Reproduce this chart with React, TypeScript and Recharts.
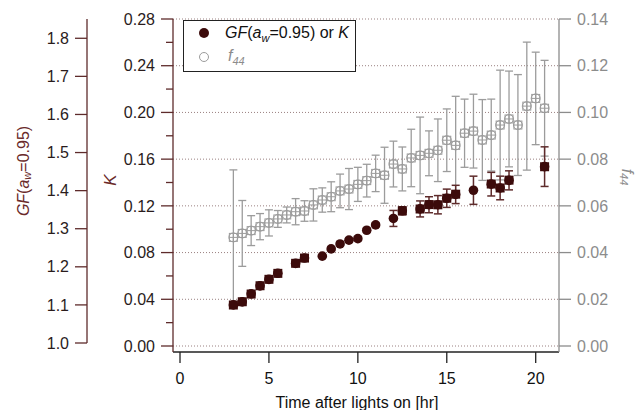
import React from "react";
import {
  ComposedChart,
  Scatter,
  XAxis,
  YAxis,
  ErrorBar,
  CartesianGrid,
  Legend
} from "recharts";

const darkColor = "#3c0b0b";
const maroonAxis = "#5e2b2b";
const maroonText = "#6a2a2a";
const tickText = "#2a1c1c";
const grayColor = "#8c8c8c";
const grayMarker = "#9c9c9c";
const gridColor = "#9a8080";
const fontFamily = "'Liberation Sans', Arial, sans-serif";

// GF(aw=0.95) (circles, outer left axis) and K (squares, inner left axis)
const darkTime = [
  3.0, 3.5, 4.0, 4.5, 5.0, 5.5, 6.5, 7.0, 8.0, 8.5, 9.0, 9.5, 10.0, 10.5, 11.0,
  12.0, 12.5, 13.5, 14.0, 14.5, 15.0, 15.5, 16.5, 17.5, 18.0, 18.5, 20.5
];
const gfValues = [
  1.1, 1.108, 1.129, 1.15, 1.167, 1.183, 1.209, 1.223, 1.228, 1.247, 1.26,
  1.27, 1.274, 1.296, 1.31, 1.327, 1.347, 1.352, 1.363, 1.363, 1.38, 1.39,
  1.401, 1.417, 1.407, 1.427, 1.463
];
const gfErr = [
  0.005, 0.008, 0.008, 0.005, 0.005, 0.005, 0.005, 0.005, 0.003, 0.005, 0.005,
  0.005, 0.005, 0.005, 0.005, 0.021, 0.0105, 0.021, 0.021, 0.024, 0.024, 0.024,
  0.037, 0.031, 0.031, 0.025, 0.052
];
const kValues = [
  0.0351, 0.0379, 0.0445, 0.0516, 0.0571, 0.0622, 0.0708, 0.0753, null, null,
  null, null, null, null, null, null, 0.1158, 0.1173, 0.1211, 0.1209, 0.1265,
  0.13, null, 0.1387, 0.1353, 0.142, 0.1535
];

// f44 (right axis)
const f44Time = [
  3.0, 3.5, 4.0, 4.5, 5.0, 5.5, 6.0, 6.5, 7.0, 7.5, 8.0, 8.5, 9.0, 9.5, 10.0,
  10.5, 11.0, 11.5, 12.0, 12.5, 13.0, 13.5, 14.0, 14.5, 15.0, 15.5, 16.0, 16.5,
  17.0, 17.5, 18.0, 18.5, 19.0, 19.5, 20.0, 20.5
];
const f44Values = [
  0.0465, 0.0482, 0.0494, 0.0511, 0.0527, 0.0544, 0.0561, 0.0575, 0.0578,
  0.0604, 0.0625, 0.0639, 0.0664, 0.0672, 0.0692, 0.0708, 0.0739, 0.0731,
  0.0779, 0.0758, 0.0805, 0.0816, 0.0825, 0.0838, 0.0881, 0.0859, 0.0911,
  0.092, 0.0882, 0.0903, 0.0946, 0.0972, 0.0946, 0.1027, 0.106, 0.1018
];
const f44Err = [
  0.0289, 0.0141, 0.0064, 0.0056, 0.0056, 0.0036, 0.0034, 0.0056, 0.0044,
  0.0069, 0.0052, 0.0064, 0.0072, 0.0088, 0.0073, 0.007, 0.0078, 0.012,
  0.0098, 0.0094, 0.0123, 0.0164, 0.0096, 0.0134, 0.0134, 0.021, 0.0146,
  0.0158, 0.0173, 0.0154, 0.0235, 0.0205, 0.0216, 0.0274, 0.0198, 0.0205
];

const xTicks = [0, 5, 10, 15, 20];
const kTicks = [
  0, 0.02, 0.04, 0.06, 0.08, 0.1, 0.12, 0.14, 0.16, 0.18, 0.2, 0.22, 0.24,
  0.26, 0.28
];
const kGrid = [0, 0.04, 0.08, 0.12, 0.16, 0.2, 0.24, 0.28];
const gfTicks = [1.0, 1.1, 1.2, 1.3, 1.4, 1.5, 1.6, 1.7, 1.8];
const f44Ticks = [0, 0.02, 0.04, 0.06, 0.08, 0.1, 0.12, 0.14];

const darkData = darkTime.map((t, i) => ({ t, gf: gfValues[i], gfErr: gfErr[i] }));
const kData = darkTime
  .map((t, i) => ({ t, k: kValues[i] }))
  .filter(d => d.k !== null);
const f44Data = f44Time.map((t, i) => ({ t, f44: f44Values[i], f44Err: f44Err[i] }));

// K axis: long ticks with labels every 0.04, short minor ticks in between
function KTick({ x, y, payload }: any) {
  const v = payload.value;
  const major = Math.round(v * 100) % 4 === 0;
  return (
    <g>
      <line x1={x} x2={x - (major ? 12 : 7)} y1={y} y2={y} stroke={maroonAxis} strokeWidth={1.3} />
      {major && (
        <text x={x - 18} y={y} dy="0.355em" textAnchor="end" fill={tickText} fontSize={16} fontFamily={fontFamily}>
          {v.toFixed(2)}
        </text>
      )}
    </g>
  );
}

function DarkCircle({ cx, cy }: any) {
  if (cx == null || cy == null) return null;
  return <circle cx={cx} cy={cy} r={4.8} fill={darkColor} />;
}

function DarkSquare({ cx, cy }: any) {
  if (cx == null || cy == null) return null;
  return <rect x={cx - 4.5} y={cy - 4.5} width={9} height={9} fill={darkColor} />;
}

function GrayMarker({ cx, cy }: any) {
  if (cx == null || cy == null) return null;
  return (
    <g stroke={grayMarker} strokeWidth={1} fill="none">
      <circle cx={cx} cy={cy} r={4.5} />
      <rect x={cx - 4} y={cy - 4} width={8} height={8} />
      <line x1={cx - 4} x2={cx + 4} y1={cy} y2={cy} />
      <line x1={cx} x2={cx} y1={cy - 4} y2={cy + 4} />
    </g>
  );
}

function renderLegend() {
  return (
    <div
      style={{
        position: "relative",
        width: 173,
        height: 52,
        boxSizing: "border-box",
        border: "1px solid #222",
        background: "#fff",
        fontFamily,
        fontSize: 16,
        lineHeight: "18px",
        color: "#111"
      }}
    >
      <svg width={14} height={14} style={{ position: "absolute", left: 13, top: 5 }}>
        <circle cx={7} cy={7} r={5} fill={darkColor} />
      </svg>
      <div style={{ position: "absolute", left: 41, top: 3, whiteSpace: "nowrap" }}>
        <i>GF</i>(<i>a</i>
        <sub style={{ fontSize: 11, fontStyle: "italic" }}>w</sub>=0.95) or <i>K</i>
      </div>
      <svg width={14} height={14} style={{ position: "absolute", left: 13, top: 29 }}>
        <circle cx={7} cy={7} r={4.5} fill="none" stroke={grayMarker} />
      </svg>
      <div
        style={{
          position: "absolute",
          left: 44,
          top: 26,
          whiteSpace: "nowrap",
          color: grayColor,
          fontStyle: "italic"
        }}
      >
        f<sub style={{ fontSize: 11 }}>44</sub>
      </div>
    </div>
  );
}

function GfTitle(props: any) {
  const vb = props.viewBox || { x: 7, y: 19 };
  const x = vb.x + 16;
  const y = vb.y + 152;
  return (
    <text x={x} y={y} transform={`rotate(-90, ${x}, ${y})`} textAnchor="middle" dominantBaseline="central"
      fill={maroonText} fontSize={16} fontFamily={fontFamily}>
      <tspan fontStyle="italic">GF</tspan>
      <tspan>(</tspan>
      <tspan fontStyle="italic">a</tspan>
      <tspan fontStyle="italic" fontSize={11} dy={4}>w</tspan>
      <tspan dy={-4}>=0.95)</tspan>
    </text>
  );
}

function KTitle(props: any) {
  const vb = props.viewBox || { x: 87, y: 19 };
  const x = vb.x + 23;
  const y = vb.y + 161;
  return (
    <text x={x} y={y} transform={`rotate(-90, ${x}, ${y})`} textAnchor="middle" dominantBaseline="central"
      fill={maroonText} fontSize={17} fontStyle="italic" fontFamily={fontFamily}>
      K
    </text>
  );
}

function F44Title(props: any) {
  const vb = props.viewBox || { x: 559, y: 19 };
  const x = vb.x + 69;
  const y = vb.y + 158;
  return (
    <text x={x} y={y} transform={`rotate(90, ${x}, ${y})`} textAnchor="middle" dominantBaseline="central"
      fill={grayColor} fontSize={16} fontStyle="italic" fontFamily={fontFamily}>
      <tspan>f</tspan>
      <tspan fontSize={11} dy={4}>44</tspan>
    </text>
  );
}

function XTitle(props: any) {
  const vb = props.viewBox || { x: 173, y: 352 };
  return (
    <text x={vb.x + 184} y={vb.y + 56} textAnchor="middle" fill="#111" fontSize={16} fontFamily={fontFamily}>
      Time after lights on [hr]
    </text>
  );
}

export default function App() {
  return (
    <div style={{ position: "absolute", left: 0, top: 0, width: 641, height: 410, background: "#fff" }}>
      <ComposedChart width={641} height={410} margin={{ top: 19, right: 12, left: 7, bottom: 0 }}>
        <XAxis
          dataKey="t"
          type="number"
          domain={[-0.394, 21.31]}
          allowDataOverflow
          ticks={xTicks}
          interval={0}
          tickSize={11}
          tickMargin={10}
          height={58}
          stroke="#222"
          strokeWidth={1.3}
          tick={{ fill: "#111", fontSize: 16, fontFamily }}
          label={(p: any) => <XTitle {...p} />}
        />
        {/* inner left axis: K */}
        <YAxis
          yAxisId="axisA"
          orientation="left"
          type="number"
          width={86}
          domain={[-0.005137, 0.28]}
          allowDataOverflow
          ticks={kTicks}
          interval={0}
          tickSize={0}
          tickMargin={0}
          tickLine={false}
          stroke={maroonAxis}
          strokeWidth={1.3}
          tick={(p: any) => <KTick {...p} />}
          label={(p: any) => <KTitle {...p} />}
        />
        {/* outer left axis: GF */}
        <YAxis
          yAxisId="axisB"
          orientation="left"
          type="number"
          width={80}
          domain={[0.97637, 1.8506]}
          allowDataOverflow
          ticks={gfTicks}
          interval={0}
          tickSize={12}
          tickMargin={6}
          axisLine={{ stroke: maroonAxis, strokeWidth: 1.3, strokeDasharray: "324 40" }}
          tickLine={{ stroke: maroonAxis, strokeWidth: 1.3 }}
          tick={{ fill: tickText, fontSize: 16, fontFamily }}
          tickFormatter={(v: number) => v.toFixed(1)}
          label={(p: any) => <GfTitle {...p} />}
        />
        {/* right axis: f44 */}
        <YAxis
          yAxisId="axisC"
          orientation="right"
          type="number"
          width={70}
          domain={[-0.0025686, 0.14]}
          allowDataOverflow
          ticks={f44Ticks}
          interval={0}
          tickSize={12}
          tickMargin={6}
          stroke={grayColor}
          strokeWidth={1.3}
          tick={{ fill: grayColor, fontSize: 16, fontFamily }}
          tickFormatter={(v: number) => v.toFixed(2)}
          label={(p: any) => <F44Title {...p} />}
        />

        <CartesianGrid
          yAxisId="axisA"
          vertical={false}
          horizontalValues={kGrid}
          stroke={gridColor}
          strokeDasharray="1 2"
          strokeWidth={1}
        />

        <Scatter
          name="f44"
          yAxisId="axisC"
          data={f44Data}
          dataKey="f44"
          isAnimationActive={false}
          shape={(p: any) => <GrayMarker {...p} />}
        >
          <ErrorBar dataKey="f44Err" direction="y" width={4} stroke={grayMarker} strokeWidth={1.3} />
        </Scatter>

        <Scatter
          name="GF"
          yAxisId="axisB"
          data={darkData}
          dataKey="gf"
          isAnimationActive={false}
          shape={(p: any) => <DarkCircle {...p} />}
        >
          <ErrorBar dataKey="gfErr" direction="y" width={4} stroke={maroonAxis} strokeWidth={1.5} />
        </Scatter>

        <Scatter
          name="K"
          yAxisId="axisA"
          data={kData}
          dataKey="k"
          isAnimationActive={false}
          shape={(p: any) => <DarkSquare {...p} />}
        />

        <Legend
          layout="vertical"
          align="center"
          verticalAlign="middle"
          content={renderLegend}
          wrapperStyle={{ left: 183, top: 20, width: 173, height: 52 }}
        />
      </ComposedChart>
    </div>
  );
}
